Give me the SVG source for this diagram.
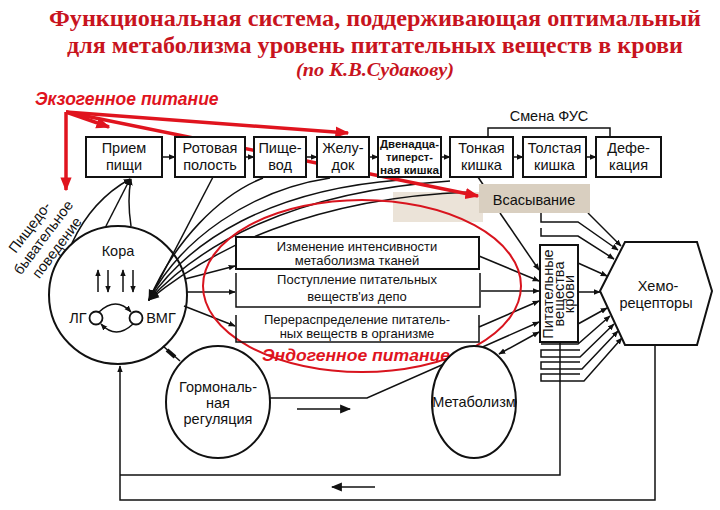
<svg xmlns="http://www.w3.org/2000/svg" width="720" height="510" viewBox="0 0 720 510">
<style>
.title{font-family:"Liberation Serif","Times New Roman",serif;font-weight:bold;fill:#c8141e;text-anchor:middle}
.red{font-family:"Liberation Sans",Arial,sans-serif;font-weight:bold;font-style:italic;fill:#e0141e}
.t{font-family:"Liberation Sans",Arial,sans-serif;font-size:14.5px;fill:#111;text-anchor:middle}
.m{font-family:"Liberation Sans",Arial,sans-serif;font-size:13px;fill:#111;text-anchor:middle}
.s{font-family:"Liberation Sans",Arial,sans-serif;font-size:11px;font-weight:bold;fill:#111;text-anchor:middle}
.box{fill:#fff;stroke:#111;stroke-width:2}
.ln{fill:none;stroke:#111;stroke-width:1.5}
.rl{fill:none;stroke:#e0141e;stroke-width:3.5}
</style>
<defs>
<marker id="a" viewBox="0 0 10 10" refX="9" refY="5" markerWidth="7" markerHeight="7" markerUnits="userSpaceOnUse" orient="auto-start-reverse"><path d="M0,1 L10,5 L0,9 z" fill="#111"/></marker>
<marker id="ab" viewBox="0 0 10 10" refX="9" refY="5" markerWidth="11" markerHeight="11" markerUnits="userSpaceOnUse" orient="auto"><path d="M0,1 L10,5 L0,9 z" fill="#111"/></marker>
<marker id="r" viewBox="0 0 10 10" refX="9" refY="5" markerWidth="14" markerHeight="14" markerUnits="userSpaceOnUse" orient="auto"><path d="M0,1 L10,5 L0,9 z" fill="#e0141e"/></marker>
</defs>
<rect width="720" height="510" fill="#fff"/>

<g id="title">
<text class="title" x="375" y="26" font-size="22.5" textLength="652" lengthAdjust="spacingAndGlyphs">Функциональная система, поддерживающая оптимальный</text>
<text class="title" x="375" y="53" font-size="22.5" textLength="616" lengthAdjust="spacingAndGlyphs">для метаболизма уровень питательных веществ в крови</text>
<text class="title" x="375" y="76" font-size="18.5" font-style="italic" textLength="158" lengthAdjust="spacingAndGlyphs">(по К.В.Судакову)</text>
</g>

<g id="labels">
<text class="red" x="35" y="105" font-size="17.5">Экзогенное питание</text>
<text class="red" x="356" y="361" font-size="16" text-anchor="middle" textLength="188" lengthAdjust="spacingAndGlyphs">Эндогенное питание</text>
<g transform="translate(44,238) rotate(-53)">
<text class="t" x="0" y="-13" font-size="15">Пищедо-</text>
<text class="t" x="0" y="4" font-size="15">бывательное</text>
<text class="t" x="0" y="21" font-size="15">поведение</text>
</g>
</g>

<g id="absorb-bg"><rect x="393" y="192" width="90" height="30" fill="#ebe3d8"/></g>

<g id="connectors">
<path class="ln" d="M162,157 H175" marker-end="url(#a)"/>
<path class="ln" d="M245,157 H254" marker-end="url(#a)"/>
<path class="ln" d="M306,157 H317" marker-end="url(#a)"/>
<path class="ln" d="M369,157 H378" marker-end="url(#a)"/>
<path class="ln" d="M441,157 H450" marker-end="url(#a)"/>
<path class="ln" d="M513,157 H523" marker-end="url(#a)"/>
<path class="ln" d="M586,157 H596" marker-end="url(#a)"/>
<path class="ln" d="M488,137 V128 H610 V137"/>
<path class="ln" d="M478,177 L484,186"/>
<path class="ln" d="M106,226 L130,179" marker-end="url(#a)"/>
<path class="ln" d="M131,226 Q127,200 131,179" marker-end="url(#a)"/>
<path class="ln" d="M72,243 Q92,200 130,179" marker-end="url(#a)"/>
<path class="ln" d="M213,177 L149,300" marker-end="url(#ab)"/>
<path class="ln" d="M263,178 C220,195 175,240 149,300" marker-end="url(#ab)"/>
<path class="ln" d="M330,178 C250,190 180,240 149,300" marker-end="url(#ab)"/>
<path class="ln" d="M400,180 C270,190 190,240 149,300" marker-end="url(#ab)"/>
<path class="ln" d="M450,181 C290,192 200,245 149,300" marker-end="url(#ab)"/>
<path class="ln" d="M470,192 C310,198 210,250 149,300" marker-end="url(#ab)"/>
<path class="ln" d="M185,279 L235,266" marker-end="url(#a)"/>
<path class="ln" d="M187,292 L235,292" marker-end="url(#a)"/>
<path class="ln" d="M184,306 L235,326" marker-end="url(#a)"/>
<path class="ln" d="M479,256 L539,281" marker-end="url(#a)"/>
<path class="ln" d="M481,291 L539,291" marker-end="url(#a)"/>
<path class="ln" d="M479,327 L539,301" marker-end="url(#a)"/>
<path class="ln" d="M500,213 L539,270" marker-end="url(#a)"/>
<path class="ln" d="M269,398 H367 L539,322" marker-end="url(#a)"/>
<path class="ln" d="M499,354 L539,332" marker-start="url(#a)" marker-end="url(#a)"/>
<path class="ln" d="M297,409 H350" marker-end="url(#ab)"/>
<path class="ln" d="M163,346 L180,361"/>
<path d="M167,350 L175,357" stroke="#111" stroke-width="4"/>
<path class="ln" d="M541,213 V222 H578 L618,250" marker-end="url(#a)"/>
<path class="ln" d="M541,228 V236 H578 L614,259" marker-end="url(#a)"/>
<path class="ln" d="M588,213 L621,246" marker-end="url(#a)"/>
<path class="ln" d="M578,292 H600" marker-end="url(#a)"/>
<path class="ln" d="M578,263 L607,276" marker-end="url(#a)"/>
<path class="ln" d="M578,324 L607,308" marker-end="url(#a)"/>
<path class="ln" d="M541,344 H578 L610,316" marker-end="url(#a)"/>
<path class="ln" d="M580,350 H541 V357 H580 L614,324" marker-end="url(#a)"/>
<path class="ln" d="M580,362 H541 V369 H582 L618,331" marker-end="url(#a)"/>
<path class="ln" d="M580,374 H541 V381 H584 L622,338" marker-end="url(#a)"/>
<path class="ln" d="M560,342 V475 H120"/>
<path class="ln" d="M655,345 V500 H120 V366" marker-end="url(#a)"/>
<path class="ln" d="M375,487 H332" marker-end="url(#ab)"/>
<path class="rl" d="M66,112 L109,127" marker-end="url(#r)"/>
<path class="rl" d="M66,112 L348,133" marker-end="url(#r)"/>
<path class="rl" d="M66,112 L478,196" marker-end="url(#r)"/>
<path class="rl" d="M66,112 V190" marker-end="url(#r)"/>
</g>

<g id="endo-ellipse"><ellipse cx="362" cy="286" rx="159" ry="86" fill="none" stroke="#d8141e" stroke-width="2"/></g>

<g id="n-priem"><rect class="box" x="86" y="137" width="76" height="40"/><text class="t" x="124" y="153">Прием</text><text class="t" x="124" y="170">пищи</text></g>
<g id="n-rot"><rect class="box" x="175" y="137" width="70" height="40"/><text class="t" x="210" y="153">Ротовая</text><text class="t" x="210" y="170">полость</text></g>
<g id="n-pish"><rect class="box" x="254" y="137" width="52" height="40"/><text class="t" x="280" y="153">Пище-</text><text class="t" x="280" y="170">вод</text></g>
<g id="n-zhel"><rect class="box" x="317" y="137" width="52" height="40"/><text class="t" x="343" y="153">Желу-</text><text class="t" x="343" y="170">док</text></g>
<g id="n-duod"><rect class="box" x="378" y="137" width="63" height="40"/><text class="s" x="409.5" y="148" textLength="59" lengthAdjust="spacingAndGlyphs">Двенадца-</text><text class="s" x="409.5" y="161">типерст-</text><text class="s" x="409.5" y="174" textLength="59" lengthAdjust="spacingAndGlyphs">ная кишка</text></g>
<g id="n-tonk"><rect class="box" x="450" y="137" width="63" height="40"/><text class="t" x="481.5" y="153">Тонкая</text><text class="t" x="481.5" y="170">кишка</text></g>
<g id="n-tolst"><rect class="box" x="523" y="137" width="63" height="40"/><text class="t" x="554.5" y="153">Толстая</text><text class="t" x="554.5" y="170">кишка</text></g>
<g id="n-def"><rect class="box" x="596" y="137" width="65" height="40"/><text class="t" x="628.5" y="153">Дефе-</text><text class="t" x="628.5" y="170">кация</text></g>
<g id="n-fus"><text class="t" x="549" y="121">Смена ФУС</text></g>

<g id="n-absorb"><rect x="479" y="184" width="111" height="29" fill="#d9cfc0"/><text class="t" x="534" y="205" font-size="16.5">Всасывание</text></g>

<g id="n-brain">
<circle cx="118" cy="295" r="69" fill="none" stroke="#111" stroke-width="2"/>
<text class="t" x="118" y="256">Кора</text>
<path class="ln" d="M98,292 V270" marker-end="url(#a)"/>
<path class="ln" d="M108,270 V292" marker-end="url(#a)"/>
<path class="ln" d="M123,292 V270" marker-end="url(#a)"/>
<path class="ln" d="M133,270 V292" marker-end="url(#a)"/>
<circle cx="96" cy="318" r="6.5" fill="#fff" stroke="#111" stroke-width="1.8"/>
<circle cx="136" cy="318" r="6.5" fill="#fff" stroke="#111" stroke-width="1.8"/>
<path class="ln" d="M99,312 Q116,296 131,312" marker-end="url(#a)"/>
<path class="ln" d="M133,324 Q116,340 101,324" marker-end="url(#a)"/>
<text class="t" x="78" y="323">ЛГ</text>
<text class="t" x="161" y="323">ВМГ</text>
</g>

<g id="n-m1"><rect class="box" x="236" y="237" width="243" height="32"/><text class="m" x="357" y="251">Изменение интенсивности</text><text class="m" x="357" y="265">метаболизма тканей</text></g>
<g id="n-m2"><path class="ln" stroke-width="2" d="M236,273 V307 H480 V273"/><text class="m" x="357" y="284">Поступление питательных</text><text class="m" x="357" y="301">веществ'из депо</text></g>
<g id="n-m3"><path class="ln" stroke-width="2" d="M236,315 V342 H479 V315"/><text class="m" x="357" y="324">Перераспределение питатель-</text><text class="m" x="357" y="338">ных веществ в организме</text></g>

<g id="n-blood"><rect class="box" x="540" y="245" width="38" height="97"/>
<g transform="translate(559,294) rotate(-90)"><text class="t" x="0" y="-6" font-size="12">Питательные</text><text class="t" x="0" y="4.5" font-size="12">вещества</text><text class="t" x="0" y="15" font-size="12">крови</text></g></g>

<g id="n-chemo"><path d="M600,291 L625,242 H697 L712,291 L697,345 H625 Z" fill="#fff" stroke="#111" stroke-width="2"/><text class="t" x="658" y="291" font-size="15.5">Хемо-</text><text class="t" x="656" y="308" font-size="15.5">рецепторы</text></g>

<g id="n-horm"><ellipse cx="218" cy="402" rx="52" ry="56" fill="#fff" stroke="#111" stroke-width="2"/><text class="t" x="218" y="392">Гормональ-</text><text class="t" x="218" y="408">ная</text><text class="t" x="218" y="424">регуляция</text></g>
<g id="n-metab"><ellipse cx="474" cy="402" rx="42" ry="56" fill="#fff" stroke="#111" stroke-width="2"/><text class="t" x="474" y="407" font-size="13">Метаболизм</text></g>
</svg>
